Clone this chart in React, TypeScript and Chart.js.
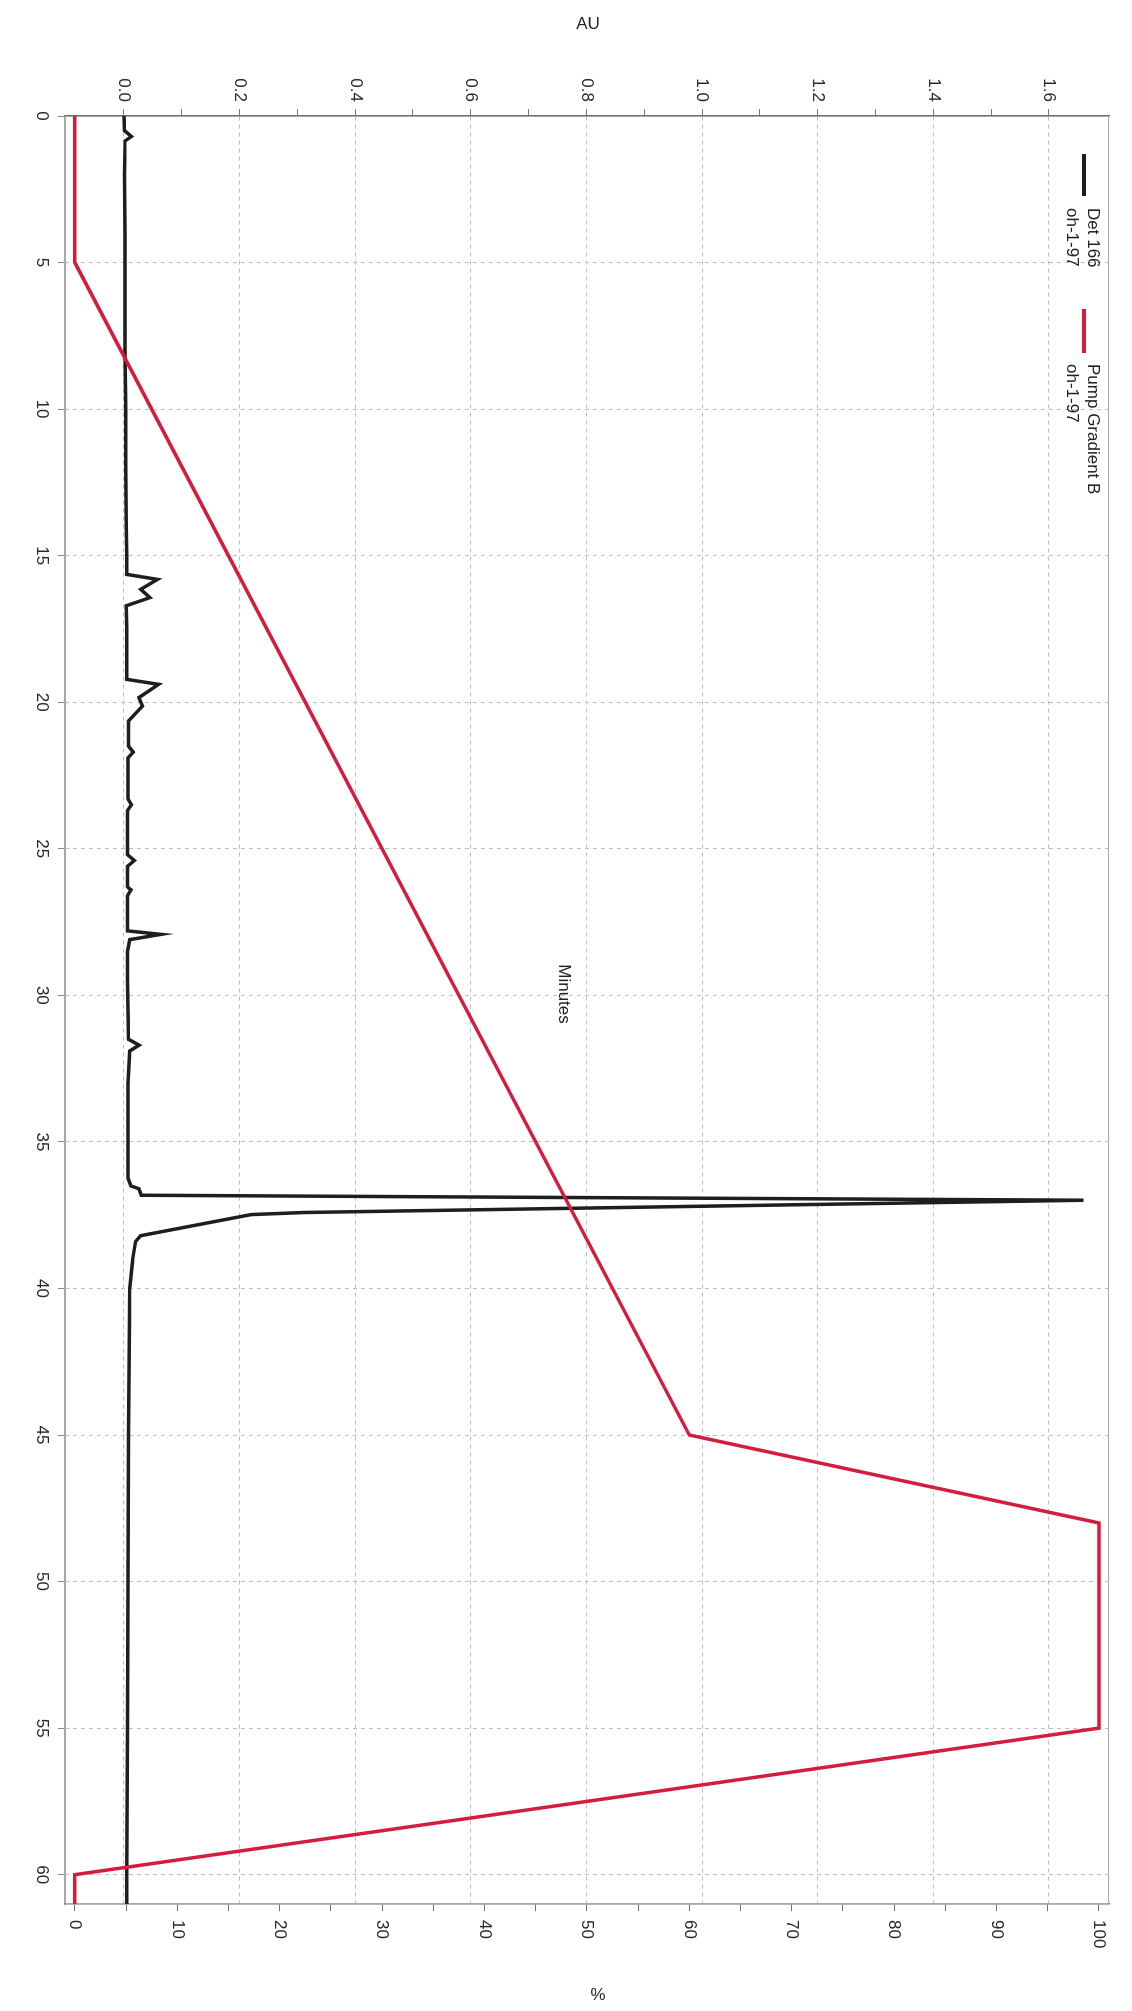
import React, { useEffect, useRef } from 'react';
import { Chart, registerables } from 'chart.js';

Chart.register(...registerables);

// ---- data ----
const detMinutes = [
  0, 0.5, 0.7, 0.85, 2, 4, 6, 8, 10, 12, 14, 15, 15.64, 15.81, 16.15, 16.43, 16.71, 17.5, 18.5,
  19.22, 19.39, 19.84, 20.13, 20.64, 21.5, 21.7, 21.9, 23.3, 23.5, 23.7, 25.2, 25.4, 25.6, 26.3,
  26.4, 26.6, 27.8, 27.92, 28.1, 28.5, 29.5, 30.5, 31.5, 31.7, 31.9, 33, 35, 36.24, 36.5, 36.6,
  36.82, 36.99, 37.41, 37.48, 38.2, 38.4, 39, 40, 42, 45, 50, 55, 60, 61,
];
const detAU = [
  0.0, 0.001, 0.013, 0.002, 0.001, 0.002, 0.002, 0.002, 0.003, 0.003, 0.004, 0.005, 0.005, 0.058,
  0.029, 0.045, 0.004, 0.005, 0.005, 0.005, 0.06, 0.026, 0.032, 0.008, 0.008, 0.016, 0.007, 0.007,
  0.013, 0.006, 0.006, 0.018, 0.006, 0.006, 0.012, 0.006, 0.006, 0.064, 0.01, 0.006, 0.006, 0.007,
  0.008, 0.026, 0.01, 0.007, 0.007, 0.007, 0.012, 0.026, 0.03, 1.66, 0.31, 0.22, 0.029, 0.02, 0.015,
  0.01, 0.009, 0.008, 0.007, 0.006, 0.005, 0.005,
];
const gradientMinutes = [0, 5, 45, 48, 55, 60, 61];
const gradientPercent = [0, 0, 60, 100, 100, 0, 0];

const minuteTicks = [0, 5, 10, 15, 20, 25, 30, 35, 40, 45, 50, 55, 60];
const auTicks = [0, 0.2, 0.4, 0.6, 0.8, 1.0, 1.2, 1.4, 1.6];
const auMinorTicks = [0.1, 0.3, 0.5, 0.7, 0.9, 1.1, 1.3, 1.5];
const percentTicks = [0, 10, 20, 30, 40, 50, 60, 70, 80, 90, 100];
const percentMinorTicks = [5, 15, 25, 35, 45, 55, 65, 75, 85, 95];

const detLabel = ['Det 166', 'oh-1-97'];
const gradientLabel = ['Pump Gradient B', 'oh-1-97'];
const auTitle = 'AU';
const percentTitle = '%';
const minutesTitle = 'Minutes';

const FONT = '"Liberation Sans", Arial, sans-serif';
const BLACK = '#1e1e1e';
const RED = '#d51c3d';

const W = 2011;
const H = 1132;

function mergeTicks(major: number[], minor: number[], digits: number) {
  const all = major.map((v) => ({ value: v, minor: false, digits })).concat(
    minor.map((v) => ({ value: v, minor: true, digits }))
  );
  all.sort((a, b) => a.value - b.value);
  return all;
}

const decorPlugin = {
  id: 'decor',
  beforeDatasetsDraw(chart: any) {
    const { ctx, chartArea: a } = chart;
    ctx.save();
    ctx.strokeStyle = '#a8a8a8';
    ctx.lineWidth = 1;
    ctx.strokeRect(a.left + 0.5, a.top + 0.5, a.right - a.left - 1, a.bottom - a.top - 1);
    ctx.restore();
  },
  afterDraw(chart: any) {
    const { ctx, chartArea: a } = chart;
    ctx.save();
    ctx.fillStyle = '#222';
    ctx.font = `17px ${FONT}`;
    ctx.textBaseline = 'alphabetic';
    ctx.textAlign = 'left';
    // legend
    const items = [
      { color: BLACK, lines: detLabel, x0: 38, x1: 80, tx: 92 },
      { color: RED, lines: gradientLabel, x0: 193, x1: 237, tx: 248 },
    ];
    for (const it of items) {
      ctx.strokeStyle = it.color;
      ctx.lineWidth = 4;
      ctx.beginPath();
      ctx.moveTo(a.left + it.x0, a.top + 25);
      ctx.lineTo(a.left + it.x1, a.top + 25);
      ctx.stroke();
      ctx.fillText(it.lines[0], a.left + it.tx, a.top + 21);
      ctx.fillText(it.lines[1], a.left + it.tx, a.top + 42);
    }
    // axis titles (rotated so they read upright on the turned page)
    ctx.textAlign = 'center';
    ctx.textBaseline = 'middle';
    ctx.save();
    ctx.translate(24, 544);
    ctx.rotate(-Math.PI / 2);
    ctx.fillText(auTitle, 0, 0);
    ctx.restore();
    ctx.save();
    ctx.translate(1995, 534);
    ctx.rotate(-Math.PI / 2);
    ctx.fillText(percentTitle, 0, 0);
    ctx.restore();
    ctx.fillText(minutesTitle, 994, 568);
    ctx.restore();
  },
};

export default function App() {
  const canvasRef = useRef<HTMLCanvasElement | null>(null);

  useEffect(() => {
    document.documentElement.style.overflow = 'hidden';
    const canvas = canvasRef.current;
    if (!canvas) return;
    const tickFont = { family: FONT, size: 17 };
    const chart = new Chart(canvas, {
      type: 'line',
      data: {
        datasets: [
          {
            label: gradientLabel.join(' '),
            data: gradientMinutes.map((m, i) => ({ x: m, y: gradientPercent[i] })),
            yAxisID: 'y2',
            borderColor: RED,
            borderWidth: 3.5,
            pointRadius: 0,
            tension: 0,
            order: 0,
          },
          {
            label: detLabel.join(' '),
            data: detMinutes.map((m, i) => ({ x: m, y: detAU[i] })),
            yAxisID: 'y',
            borderColor: BLACK,
            borderWidth: 3.5,
            pointRadius: 0,
            tension: 0,
            order: 1,
          },
        ],
      },
      options: {
        responsive: false,
        animation: false,
        devicePixelRatio: 1,
        layout: { padding: { top: 23, left: 0, right: 0, bottom: 0 } },
        plugins: { legend: { display: false }, tooltip: { enabled: false } },
        scales: {
          x: {
            type: 'linear',
            position: 'bottom',
            min: 0,
            max: 61,
            afterFit: (s: any) => {
              s.height = 65;
            },
            afterBuildTicks: (s: any) => {
              s.ticks = minuteTicks.map((v) => ({ value: v }));
            },
            ticks: {
              autoSkip: false,
              maxRotation: 0,
              padding: 6,
              font: tickFont,
              color: '#2a2a2a',
              callback: (v: any) => String(v),
            },
            grid: { color: '#bdbdbd', lineWidth: 1, tickLength: 7, tickColor: '#888' },
            border: { display: true, color: '#a8a8a8', width: 1, dash: [4, 4] },
          },
          y: {
            type: 'linear',
            position: 'left',
            min: -0.102,
            max: 1.704,
            afterFit: (s: any) => {
              s.width = 116;
            },
            afterBuildTicks: (s: any) => {
              s.ticks = mergeTicks(auTicks, auMinorTicks, 1);
            },
            ticks: {
              autoSkip: false,
              padding: 7,
              font: tickFont,
              color: '#2a2a2a',
              callback: (v: any, i: number, ticks: any[]) =>
                ticks[i] && ticks[i].minor ? '' : Number(v).toFixed(1),
            },
            grid: {
              color: (c: any) => (c.tick && c.tick.minor ? 'rgba(0,0,0,0)' : '#bdbdbd'),
              tickColor: '#777',
              tickLength: 7,
              lineWidth: 1,
            },
            border: { display: true, color: '#707070', width: 1.5, dash: [4, 4] },
          },
          y2: {
            type: 'linear',
            position: 'right',
            min: -0.96,
            max: 100.98,
            afterFit: (s: any) => {
              s.width = 107;
            },
            afterBuildTicks: (s: any) => {
              s.ticks = mergeTicks(percentTicks, percentMinorTicks, 0);
            },
            ticks: {
              autoSkip: false,
              padding: 9,
              font: tickFont,
              color: '#2a2a2a',
              callback: (v: any, i: number, ticks: any[]) =>
                ticks[i] && ticks[i].minor ? '' : String(Math.round(Number(v))),
            },
            grid: { drawOnChartArea: false, tickColor: '#777', tickLength: 7 },
            border: { display: true, color: '#707070', width: 1.5 },
          },
        },
      },
      plugins: [decorPlugin],
    } as any);
    return () => chart.destroy();
  }, []);

  return (
    <div
      style={{
        position: 'absolute',
        left: 0,
        top: 0,
        width: `${W}px`,
        height: `${H}px`,
        background: '#ffffff',
        transformOrigin: '0 0',
        transform: `translate(${H}px, 0px) rotate(90deg)`,
        overflow: 'hidden',
      }}
    >
      <canvas ref={canvasRef} width={W} height={H} style={{ display: 'block' }} />
    </div>
  );
}
